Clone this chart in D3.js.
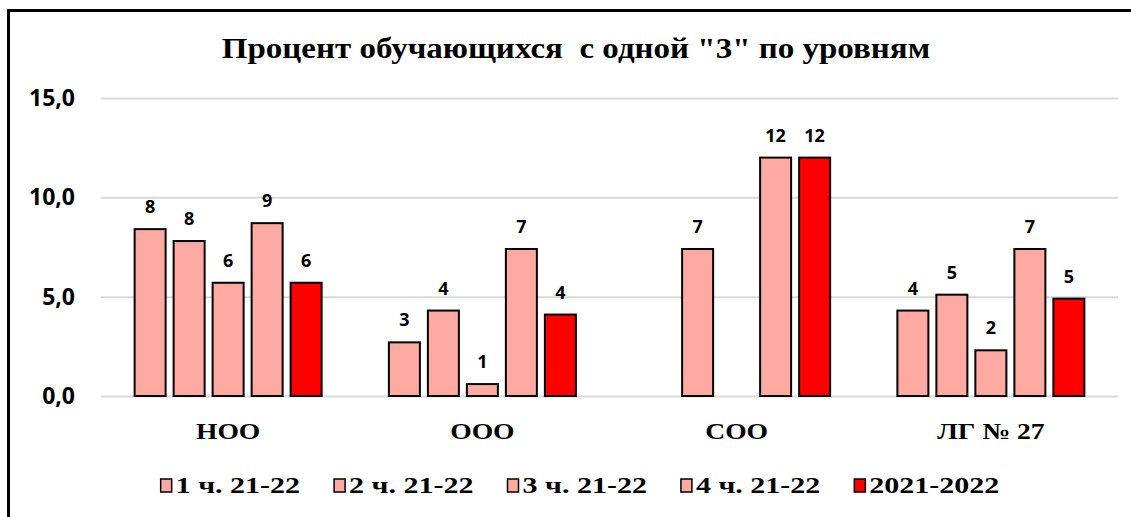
<!DOCTYPE html>
<html>
<head>
<meta charset="utf-8">
<script src="https://cdn.jsdelivr.net/npm/d3@7"></script>
<style>
  body { margin: 0; background: #fff; }
  .serif { font-family: "Liberation Serif", "Times New Roman", serif; font-weight: bold; fill: #000; }
  .sans { font-family: "Open Sans", "DejaVu Sans", sans-serif; font-weight: bold; fill: #000; }
</style>
</head>
<body>
<script>
const title = 'Процент обучающихся  с одной "3" по уровням'
const categories = ['НОО', 'ООО', 'СОО', 'ЛГ № 27']
const seriesNames = ['1 ч. 21-22', '2 ч. 21-22', '3 ч. 21-22', '4 ч. 21-22', '2021-2022']
const q1 = [8.4, 2.7, null, 4.3]
const q2 = [7.8, 4.3, 7.4, 5.1]
const q3 = [5.7, 0.6, null, 2.3]
const q4 = [8.7, 7.4, 12.0, 7.4]
const year = [5.7, 4.1, 12.0, 4.9]
const yTicks = [0, 5, 10, 15]

const seriesValues = [q1, q2, q3, q4, year]
const colors = ['#ffa9a3', '#ffa9a3', '#ffa9a3', '#ffa9a3', '#ff0000']

const widthCanvas = 1131
const heightCanvas = 517
const margin = {top: 98, bottom: 121, left: 101, right: 13}
const stretch = 1.2

const svg = d3.select('body').append('svg')
  .attr('width', widthCanvas)
  .attr('height', heightCanvas)

// frame
svg.append('rect')
  .attr('x', 8.5)
  .attr('y', 10.5)
  .attr('width', 1140)
  .attr('height', 520)
  .attr('fill', '#fff')
  .attr('stroke', '#000')
  .attr('stroke-width', 3)

const widen = (sel, k) => {
  sel.each(function() {
    const w = this.getComputedTextLength()
    d3.select(this)
      .attr('textLength', w * k)
      .attr('lengthAdjust', 'spacingAndGlyphs')
  })
}

svg.append('text')
  .attr('class', 'serif')
  .attr('x', 576)
  .attr('y', 58)
  .attr('text-anchor', 'middle')
  .style('font-size', '30px')
  .style('white-space', 'pre')
  .text(title)
  .call(widen, 1.1)

const x0 = d3.scaleBand()
  .domain(categories)
  .range([margin.left, widthCanvas - margin.right])

const x1 = d3.scaleBand()
  .domain(seriesNames)
  .range([0, 195])
  .paddingInner(0.205)
  .paddingOuter(0.1025)

const yScale = d3.scaleLinear()
  .domain([0, 15])
  .range([heightCanvas - margin.bottom, margin.top])

// grid + y labels
const grid = svg.append('g')
  .attr('transform', `translate(${margin.left}, 0)`)
  .call(d3.axisLeft(yScale)
    .tickValues(yTicks)
    .tickSize(-(widthCanvas - margin.left - margin.right))
    .tickPadding(26)
    .tickFormat(d => d3.format('.1f')(d).replace('.', ',')))

grid.select('.domain').remove()
grid.selectAll('line')
  .attr('stroke', '#d9d9d9')
  .attr('stroke-width', 2)
grid.selectAll('text')
  .attr('class', 'sans')
  .style('font-size', '23px')
  .attr('font-family', null)

const groups = svg.append('g').selectAll('g')
  .data(categories)
  .enter()
  .append('g')
  .attr('transform', d => `translate(${x0(d) + x0.bandwidth() / 2 - 97.5}, 0)`)

const barData = (d, i) => seriesNames
  .map((s, j) => ({series: s, value: seriesValues[j][i], color: colors[j]}))
  .filter(b => b.value !== null)

groups.selectAll('rect')
  .data(barData)
  .enter()
  .append('rect')
  .attr('x', d => x1(d.series))
  .attr('y', d => yScale(d.value))
  .attr('width', x1.bandwidth())
  .attr('height', d => yScale(0) - yScale(d.value))
  .attr('fill', d => d.color)
  .attr('stroke', '#000')
  .attr('stroke-width', 2)

groups.selectAll('text')
  .data(barData)
  .enter()
  .append('text')
  .attr('class', 'sans')
  .attr('x', d => x1(d.series) + x1.bandwidth() / 2)
  .attr('y', d => yScale(d.value) - 16)
  .attr('text-anchor', 'middle')
  .style('font-size', '18px')
  .text(d => Math.round(d.value))

// category labels
const xAxis = svg.append('g')
  .attr('transform', `translate(0, ${yScale(0)})`)
  .call(d3.axisBottom(x0).tickSize(0))

xAxis.select('.domain').remove()
xAxis.selectAll('text')
  .attr('class', 'serif')
  .attr('font-family', null)
  .attr('dy', null)
  .attr('y', 43)
  .style('font-size', '23px')
  .call(widen, stretch)

// legend
const legend = svg.append('g')
const items = legend.selectAll('g')
  .data(seriesNames)
  .enter()
  .append('g')

items.append('rect')
  .attr('x', 0)
  .attr('y', 479)
  .attr('width', 11)
  .attr('height', 13)
  .attr('fill', (d, i) => colors[i])
  .attr('stroke', '#000')
  .attr('stroke-width', 1.5)

items.append('text')
  .attr('class', 'serif')
  .attr('x', 15)
  .attr('y', 493)
  .style('font-size', '24px')
  .text(d => d)
  .call(widen, 1.25)

let offset = 0
const widths = []
items.each(function() {
  widths.push(this.getBBox().width)
})
const gap = 34
const total = d3.sum(widths) + gap * (widths.length - 1)
offset = 580 - total / 2
items.attr('transform', (d, i) => {
  const t = `translate(${offset}, 0)`
  offset += widths[i] + gap
  return t
})
</script>
</body>
</html>
